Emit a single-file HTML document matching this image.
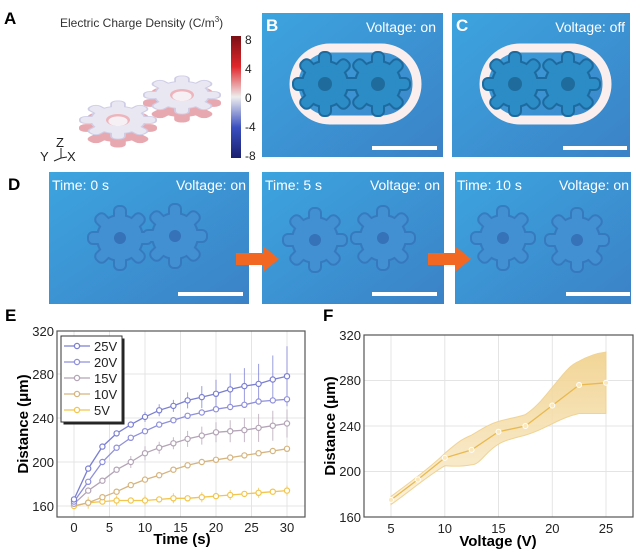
<!DOCTYPE html>
<html><head><meta charset="utf-8"><style>
html,body{margin:0;padding:0;background:#fff;width:640px;height:555px;overflow:hidden}
svg{display:block;font-family:"Liberation Sans",Arial,sans-serif}
</style></head><body>
<svg width="640" height="555" viewBox="0 0 640 555" xmlns="http://www.w3.org/2000/svg">
<defs>
<linearGradient id="bg" x1="0" y1="0" x2="1" y2="1"><stop offset="0" stop-color="#3ca4df"/><stop offset="1" stop-color="#3b82c6"/></linearGradient>
<linearGradient id="cb" x1="0" y1="0" x2="0" y2="1"><stop offset="0" stop-color="#7a0f14"/><stop offset="0.25" stop-color="#e0262b"/><stop offset="0.5" stop-color="#eeeeee"/><stop offset="0.75" stop-color="#3a4fc0"/><stop offset="1" stop-color="#1a1f6e"/></linearGradient>
<linearGradient id="band" x1="0" y1="1" x2="0" y2="0"><stop offset="0" stop-color="#fbf0d8"/><stop offset="1" stop-color="#f1d18c"/></linearGradient>
<g id="gear">
<circle r="22"/>
<rect x="-5" y="-31" width="10" height="14" rx="4"/>
<rect x="-5" y="-31" width="10" height="14" rx="4" transform="rotate(45)"/>
<rect x="-5" y="-31" width="10" height="14" rx="4" transform="rotate(90)"/>
<rect x="-5" y="-31" width="10" height="14" rx="4" transform="rotate(135)"/>
<rect x="-5" y="-31" width="10" height="14" rx="4" transform="rotate(180)"/>
<rect x="-5" y="-31" width="10" height="14" rx="4" transform="rotate(225)"/>
<rect x="-5" y="-31" width="10" height="14" rx="4" transform="rotate(270)"/>
<rect x="-5" y="-31" width="10" height="14" rx="4" transform="rotate(315)"/>
</g>
</defs>

<!-- Panel A -->
<text x="4" y="24" font-size="17" font-weight="bold">A</text>
<text x="60" y="27" font-size="12" fill="#333">Electric Charge Density (C/m<tspan font-size="8" dy="-5">3</tspan><tspan dy="5">)</tspan></text>
<rect x="231" y="36" width="10" height="122" fill="url(#cb)"/>
<g font-size="12" fill="#222"><text x="245" y="44">8</text><text x="245" y="73">4</text><text x="245" y="102">0</text><text x="245" y="131">-4</text><text x="245" y="160">-8</text></g>
<g transform="translate(182,103) scale(1.2,0.6)" fill="#e8a8b0" stroke="#e8a8b0" stroke-width="3"><use href="#gear"/></g>
<g transform="translate(182,95) scale(1.2,0.6)" fill="#cfcde6" stroke="#cfcde6" stroke-width="3"><use href="#gear"/></g>
<g transform="translate(182,95) scale(1.2,0.6)" fill="#e9e7f1"><use href="#gear"/><circle r="10" fill="#eeb4bb"/><circle r="8" cy="2" fill="#f6f0f4"/></g>
<g transform="translate(118,128) scale(1.2,0.6)" fill="#e8a8b0" stroke="#e8a8b0" stroke-width="3"><use href="#gear"/></g>
<g transform="translate(118,120) scale(1.2,0.6)" fill="#cfcde6" stroke="#cfcde6" stroke-width="3"><use href="#gear"/></g>
<g transform="translate(118,120) scale(1.2,0.6)" fill="#e9e7f1"><use href="#gear"/><circle r="10" fill="#eeb4bb"/><circle r="8" cy="2" fill="#f6f0f4"/></g>
<g font-size="13" fill="#222"><text x="56" y="147">Z</text><text x="40" y="161">Y</text><text x="67" y="161">X</text></g>
<path d="M61 148 V158 L54 161 M61 158 L67 157" stroke="#222" fill="none"/>

<!-- Panel B, C -->
<g>
<rect x="262" y="13" width="181" height="144" fill="url(#bg)"/>
<rect x="294" y="48" width="123" height="72" rx="36" fill="none" stroke="#fbeeee" stroke-width="9"/>
<g fill="#1d6a9e" stroke="#1d6a9e" stroke-width="4"><use href="#gear" x="325" y="84"/><use href="#gear" x="378" y="84"/></g>
<g fill="#2b8cc6"><use href="#gear" x="325" y="84"/><use href="#gear" x="378" y="84"/></g>
<circle cx="325" cy="84" r="7" fill="#1f6b9c"/><circle cx="378" cy="84" r="7" fill="#1f6b9c"/>
<text x="266" y="31" font-size="17" font-weight="bold" fill="#fff">B</text>
<text x="436" y="32" font-size="14" fill="#fff" text-anchor="end">Voltage: on</text>
<rect x="372" y="146" width="65" height="4" fill="#fff"/>
</g>
<g>
<rect x="452" y="13" width="178" height="144" fill="url(#bg)"/>
<rect x="484" y="48" width="123" height="72" rx="36" fill="none" stroke="#fbeeee" stroke-width="9"/>
<g fill="#1d6a9e" stroke="#1d6a9e" stroke-width="4"><use href="#gear" x="515" y="84"/><use href="#gear" x="568" y="84"/></g>
<g fill="#2b8cc6"><use href="#gear" x="515" y="84"/><use href="#gear" x="568" y="84"/></g>
<circle cx="515" cy="84" r="7" fill="#1f6b9c"/><circle cx="568" cy="84" r="7" fill="#1f6b9c"/>
<text x="456" y="31" font-size="17" font-weight="bold" fill="#fff">C</text>
<text x="625" y="32" font-size="14" fill="#fff" text-anchor="end">Voltage: off</text>
<rect x="563" y="146" width="64" height="4" fill="#fff"/>
</g>

<!-- Panel D -->
<text x="8" y="190" font-size="17" font-weight="bold">D</text>
<g>
<rect x="49" y="172" width="200" height="132" fill="url(#bg)"/>
<g fill="#3572b8" stroke="#3572b8" stroke-width="4" opacity="0.75"><use href="#gear" x="120" y="238"/><use href="#gear" x="175" y="236"/></g>
<g fill="#4290d2"><use href="#gear" x="120" y="238"/><use href="#gear" x="175" y="236"/></g>
<circle cx="120" cy="238" r="6" fill="#3572b8"/><circle cx="175" cy="236" r="6" fill="#3572b8"/>
<text x="52" y="190" font-size="14" fill="#fff">Time: 0 s</text>
<text x="246" y="190" font-size="14" fill="#fff" text-anchor="end">Voltage: on</text>
<rect x="178" y="292" width="65" height="4" fill="#fff"/>
</g>
<g>
<rect x="262" y="172" width="182" height="132" fill="url(#bg)"/>
<g fill="#3572b8" stroke="#3572b8" stroke-width="4" opacity="0.75"><use href="#gear" x="315" y="240"/><use href="#gear" x="383" y="238"/></g>
<g fill="#4290d2"><use href="#gear" x="315" y="240"/><use href="#gear" x="383" y="238"/></g>
<circle cx="315" cy="240" r="6" fill="#3572b8"/><circle cx="383" cy="238" r="6" fill="#3572b8"/>
<text x="265" y="190" font-size="14" fill="#fff">Time: 5 s</text>
<text x="440" y="190" font-size="14" fill="#fff" text-anchor="end">Voltage: on</text>
<rect x="372" y="292" width="65" height="4" fill="#fff"/>
</g>
<g>
<rect x="455" y="172" width="176" height="132" fill="url(#bg)"/>
<g fill="#3572b8" stroke="#3572b8" stroke-width="4" opacity="0.75"><use href="#gear" x="503" y="238"/><use href="#gear" x="577" y="240"/></g>
<g fill="#4290d2"><use href="#gear" x="503" y="238"/><use href="#gear" x="577" y="240"/></g>
<circle cx="503" cy="238" r="6" fill="#3572b8"/><circle cx="577" cy="240" r="6" fill="#3572b8"/>
<text x="457" y="190" font-size="14" fill="#fff">Time: 10 s</text>
<text x="629" y="190" font-size="14" fill="#fff" text-anchor="end">Voltage: on</text>
<rect x="566" y="292" width="64" height="4" fill="#fff"/>
</g>
<polygon points="236,253 263,253 263,246 279,259 263,272 263,265 236,265" fill="#f26722"/>
<polygon points="428,253 455,253 455,246 471,259 455,272 455,265 428,265" fill="#f26722"/>

<!-- Panel E -->
<text x="5" y="321" font-size="17" font-weight="bold">E</text>
<g stroke="#e4e4e4" stroke-width="1">
<line x1="74" y1="331" x2="74" y2="517"/><line x1="109.5" y1="331" x2="109.5" y2="517"/><line x1="145" y1="331" x2="145" y2="517"/><line x1="180.5" y1="331" x2="180.5" y2="517"/><line x1="216" y1="331" x2="216" y2="517"/><line x1="251.5" y1="331" x2="251.5" y2="517"/><line x1="287" y1="331" x2="287" y2="517"/>
<line x1="57" y1="374" x2="305" y2="374"/><line x1="57" y1="418" x2="305" y2="418"/><line x1="57" y1="462" x2="305" y2="462"/><line x1="57" y1="506" x2="305" y2="506"/>
</g>
<g fill="none" stroke-width="1" >
<g stroke="#7f83d6" opacity="0.8">
<path d="M145 411.9V422 M159.2 404.3V416.3 M173.4 399.9V411.9 M187.6 392.4V408.4 M201.8 386.1V408.1 M216 379.8V407.8 M230.2 373.4V405.4 M244.4 368.1V404.1 M258.6 363.9V403.9 M272.8 355.5V403.5 M287 346.2V406.2"/>
</g>
<g stroke="#b8a8ba" opacity="0.8">
<path d="M130.8 456V468 M145 446.2V460.2 M159.2 441.7V453.7 M173.4 437.3V449.3 M187.6 430.9V446.9 M201.8 426.6V444.6 M216 422.3V442.3 M230.2 420.2V442.2 M244.4 418.1V442.1 M258.6 413.9V441.9 M272.8 410.7V440.7 M287 409.5V437.5"/>
</g>
<g stroke="#f0c65a" opacity="0.8"><path d="M88.2 496.7V508.7 M116.6 495.5V505.5 M145 495.5V505.5 M173.4 493.3V503.3 M201.8 492.2V502.2 M230.2 490V500 M258.6 487.8V497.8 M287 485.6V495.6"/></g>
</g>
<g fill="none" stroke-width="1.3">
<polyline stroke="#f3c54c" points="74,506 88.2,502.7 102.4,501.6 116.6,500.5 130.8,500.5 145,500.5 159.2,499.4 173.4,498.3 187.6,498.3 201.8,497.2 216,496.1 230.2,495 244.4,493.9 258.6,492.8 272.8,491.7 287,490.6"/>
<polyline stroke="#d6b47e" points="74,506 88.2,502.7 102.4,497.2 116.6,491.7 130.8,485.1 145,479.6 159.2,475.2 173.4,469.7 187.6,465.3 201.8,462 216,459.8 230.2,457.6 244.4,455.4 258.6,453.2 272.8,451 287,448.8"/>
<polyline stroke="#b3a4b6" points="74,503.8 88.2,490.6 102.4,480.7 116.6,469.7 130.8,462 145,453.2 159.2,447.7 173.4,443.3 187.6,438.9 201.8,435.6 216,432.3 230.2,431.2 244.4,430.1 258.6,427.9 272.8,425.7 287,423.5"/>
<polyline stroke="#8f90dc" points="74,501.6 88.2,481.8 102.4,462 116.6,447.7 130.8,437.8 145,431.2 159.2,424.6 173.4,420.2 187.6,415.8 201.8,412.5 216,409.2 230.2,407 244.4,404.8 258.6,401.5 272.8,400.4 287,399.3"/>
<polyline stroke="#7b7fd2" points="74,499.4 88.2,468.6 102.4,446.6 116.6,433.4 130.8,424.6 145,416.9 159.2,410.3 173.4,405.9 187.6,400.4 201.8,397.1 216,393.8 230.2,389.4 244.4,386.1 258.6,383.9 272.8,379.5 287,376.2"/>
</g>
<g fill="#fff" stroke-width="1.2">
<g stroke="#f3c54c"><circle cx="74" cy="506" r="2.6"/><circle cx="88.2" cy="502.7" r="2.6"/><circle cx="102.4" cy="501.6" r="2.6"/><circle cx="116.6" cy="500.5" r="2.6"/><circle cx="130.8" cy="500.5" r="2.6"/><circle cx="145" cy="500.5" r="2.6"/><circle cx="159.2" cy="499.4" r="2.6"/><circle cx="173.4" cy="498.3" r="2.6"/><circle cx="187.6" cy="498.3" r="2.6"/><circle cx="201.8" cy="497.2" r="2.6"/><circle cx="216" cy="496.1" r="2.6"/><circle cx="230.2" cy="495" r="2.6"/><circle cx="244.4" cy="493.9" r="2.6"/><circle cx="258.6" cy="492.8" r="2.6"/><circle cx="272.8" cy="491.7" r="2.6"/><circle cx="287" cy="490.6" r="2.6"/></g>
<g stroke="#d6b47e"><circle cx="88.2" cy="502.7" r="2.6"/><circle cx="102.4" cy="497.2" r="2.6"/><circle cx="116.6" cy="491.7" r="2.6"/><circle cx="130.8" cy="485.1" r="2.6"/><circle cx="145" cy="479.6" r="2.6"/><circle cx="159.2" cy="475.2" r="2.6"/><circle cx="173.4" cy="469.7" r="2.6"/><circle cx="187.6" cy="465.3" r="2.6"/><circle cx="201.8" cy="462" r="2.6"/><circle cx="216" cy="459.8" r="2.6"/><circle cx="230.2" cy="457.6" r="2.6"/><circle cx="244.4" cy="455.4" r="2.6"/><circle cx="258.6" cy="453.2" r="2.6"/><circle cx="272.8" cy="451" r="2.6"/><circle cx="287" cy="448.8" r="2.6"/></g>
<g stroke="#b3a4b6"><circle cx="74" cy="503.8" r="2.6"/><circle cx="88.2" cy="490.6" r="2.6"/><circle cx="102.4" cy="480.7" r="2.6"/><circle cx="116.6" cy="469.7" r="2.6"/><circle cx="130.8" cy="462" r="2.6"/><circle cx="145" cy="453.2" r="2.6"/><circle cx="159.2" cy="447.7" r="2.6"/><circle cx="173.4" cy="443.3" r="2.6"/><circle cx="187.6" cy="438.9" r="2.6"/><circle cx="201.8" cy="435.6" r="2.6"/><circle cx="216" cy="432.3" r="2.6"/><circle cx="230.2" cy="431.2" r="2.6"/><circle cx="244.4" cy="430.1" r="2.6"/><circle cx="258.6" cy="427.9" r="2.6"/><circle cx="272.8" cy="425.7" r="2.6"/><circle cx="287" cy="423.5" r="2.6"/></g>
<g stroke="#8f90dc"><circle cx="74" cy="501.6" r="2.6"/><circle cx="88.2" cy="481.8" r="2.6"/><circle cx="102.4" cy="462" r="2.6"/><circle cx="116.6" cy="447.7" r="2.6"/><circle cx="130.8" cy="437.8" r="2.6"/><circle cx="145" cy="431.2" r="2.6"/><circle cx="159.2" cy="424.6" r="2.6"/><circle cx="173.4" cy="420.2" r="2.6"/><circle cx="187.6" cy="415.8" r="2.6"/><circle cx="201.8" cy="412.5" r="2.6"/><circle cx="216" cy="409.2" r="2.6"/><circle cx="230.2" cy="407" r="2.6"/><circle cx="244.4" cy="404.8" r="2.6"/><circle cx="258.6" cy="401.5" r="2.6"/><circle cx="272.8" cy="400.4" r="2.6"/><circle cx="287" cy="399.3" r="2.6"/></g>
<g stroke="#7b7fd2"><circle cx="74" cy="499.4" r="2.6"/><circle cx="88.2" cy="468.6" r="2.6"/><circle cx="102.4" cy="446.6" r="2.6"/><circle cx="116.6" cy="433.4" r="2.6"/><circle cx="130.8" cy="424.6" r="2.6"/><circle cx="145" cy="416.9" r="2.6"/><circle cx="159.2" cy="410.3" r="2.6"/><circle cx="173.4" cy="405.9" r="2.6"/><circle cx="187.6" cy="400.4" r="2.6"/><circle cx="201.8" cy="397.1" r="2.6"/><circle cx="216" cy="393.8" r="2.6"/><circle cx="230.2" cy="389.4" r="2.6"/><circle cx="244.4" cy="386.1" r="2.6"/><circle cx="258.6" cy="383.9" r="2.6"/><circle cx="272.8" cy="379.5" r="2.6"/><circle cx="287" cy="376.2" r="2.6"/></g>
</g>
<rect x="57" y="331" width="248" height="186" fill="none" stroke="#555" stroke-width="1.2"/>
<rect x="63.5" y="338.5" width="61" height="86" fill="#222"/>
<rect x="61" y="336" width="61" height="86" fill="#fff" stroke="#333" stroke-width="1"/>
<g stroke-width="1.3" fill="#fff">
<line x1="64" y1="346" x2="90" y2="346" stroke="#7b7fd2"/><circle cx="77" cy="346" r="2.6" stroke="#7b7fd2"/>
<line x1="64" y1="362" x2="90" y2="362" stroke="#8f90dc"/><circle cx="77" cy="362" r="2.6" stroke="#8f90dc"/>
<line x1="64" y1="378" x2="90" y2="378" stroke="#b3a4b6"/><circle cx="77" cy="378" r="2.6" stroke="#b3a4b6"/>
<line x1="64" y1="394" x2="90" y2="394" stroke="#d6b47e"/><circle cx="77" cy="394" r="2.6" stroke="#d6b47e"/>
<line x1="64" y1="410" x2="90" y2="410" stroke="#f3c54c"/><circle cx="77" cy="410" r="2.6" stroke="#f3c54c"/>
</g>
<g font-size="13" fill="#222"><text x="94" y="351">25V</text><text x="94" y="367">20V</text><text x="94" y="383">15V</text><text x="94" y="399">10V</text><text x="94" y="415">5V</text></g>
<g font-size="13" fill="#222" text-anchor="end"><text x="54" y="336">320</text><text x="54" y="379">280</text><text x="54" y="423">240</text><text x="54" y="467">200</text><text x="54" y="511">160</text></g>
<g font-size="13" fill="#222" text-anchor="middle"><text x="74" y="532">0</text><text x="109.5" y="532">5</text><text x="145" y="532">10</text><text x="180.5" y="532">15</text><text x="216" y="532">20</text><text x="251.5" y="532">25</text><text x="287" y="532">30</text></g>
<text x="182" y="544" font-size="15" font-weight="bold" text-anchor="middle">Time (s)</text>
<text transform="translate(28,424) rotate(-90)" font-size="15" font-weight="bold" text-anchor="middle">Distance (μm)</text>

<!-- Panel F -->
<text x="323" y="321" font-size="17" font-weight="bold">F</text>
<g stroke="#e4e4e4" stroke-width="1">
<line x1="391" y1="335" x2="391" y2="517"/><line x1="444.8" y1="335" x2="444.8" y2="517"/><line x1="498.5" y1="335" x2="498.5" y2="517"/><line x1="552.3" y1="335" x2="552.3" y2="517"/><line x1="606" y1="335" x2="606" y2="517"/>
<line x1="364" y1="380.5" x2="633" y2="380.5"/><line x1="364" y1="426" x2="633" y2="426"/><line x1="364" y1="471.5" x2="633" y2="471.5"/>
</g>
<path d="M391 496.5 C405 486 430 468 444.8 453.3 C458 442 462 439 471.6 435.1 C485 427 490 424 498.5 421.4 C510 418 515 418 525.4 414.6 C538 406 545 396 552.3 387.3 C565 372 570 365 579.1 361.2 C590 355 598 353 606 352.1 L606 413.5 C595 413.5 588 413.5 579.1 413.5 C568 416 560 420 552.3 423.7 C540 430 533 433 525.4 435.1 C515 438 505 440 498.5 444.2 C485 452 480 465 471.6 464.7 C460 467 452 466 444.8 465.8 C430 474 405 495 391 504.5 Z" fill="url(#band)" stroke="#efcf8a" stroke-width="1" opacity="0.9"/>
<polyline points="391,499.9 417.9,479.5 444.8,457.9 471.6,449.9 498.5,431.7 525.4,426 552.3,405.5 579.1,385 606,382.8" fill="none" stroke="#e8b94e" stroke-width="1.3"/>
<g fill="#fbe7b8" stroke="#fff" stroke-width="1"><circle cx="391" cy="499.9" r="2.5"/><circle cx="417.9" cy="479.5" r="2.5"/><circle cx="444.8" cy="457.9" r="2.5"/><circle cx="471.6" cy="449.9" r="2.5"/><circle cx="498.5" cy="431.7" r="2.5"/><circle cx="525.4" cy="426" r="2.5"/><circle cx="552.3" cy="405.5" r="2.5"/><circle cx="579.1" cy="385" r="2.5"/><circle cx="606" cy="382.8" r="2.5"/></g>
<rect x="364" y="335" width="269" height="182" fill="none" stroke="#555" stroke-width="1.2"/>
<g font-size="13" fill="#222" text-anchor="end"><text x="361" y="340">320</text><text x="361" y="385">280</text><text x="361" y="431">240</text><text x="361" y="476">200</text><text x="361" y="522">160</text></g>
<g font-size="13" fill="#222" text-anchor="middle"><text x="391" y="533">5</text><text x="444.8" y="533">10</text><text x="498.5" y="533">15</text><text x="552.3" y="533">20</text><text x="606" y="533">25</text></g>
<text x="498" y="546" font-size="15" font-weight="bold" text-anchor="middle">Voltage (V)</text>
<text transform="translate(335,426) rotate(-90)" font-size="15" font-weight="bold" text-anchor="middle">Distance (μm)</text>
</svg>
</body></html>
